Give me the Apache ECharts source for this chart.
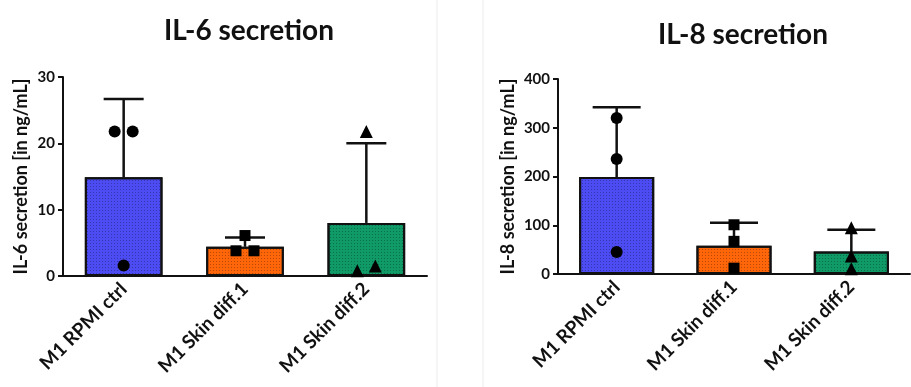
<!DOCTYPE html>
<html><head><meta charset="utf-8">
<script src="https://cdn.jsdelivr.net/npm/echarts@6/dist/echarts.min.js"></script>
<style>html,body{margin:0;padding:0;background:#fff}#c{width:911px;height:387px}</style>
</head><body><div id="c"></div>
<script>
const categories = ['M1 RPMI ctrl', 'M1 Skin diff.1', 'M1 Skin diff.2'];
const il6Mean = [14.9, 4.4, 8.0];
const il6Upper = [26.7, 5.8, 20.0];
const il6Points = [[21.8, 21.8, 1.6], [6.1, 3.8, 3.8], [21.8, 0.8, 1.5]];
const il8Mean = [199, 58, 46];
const il8Upper = [342, 105, 91];
const il8Points = [[320, 236, 45], [101, 67, 12], [95, 37, 11]];
const yTicks6 = [0, 10, 20, 30];
const yTicks8 = [0, 100, 200, 300, 400];

const colors = ['#4c4cf2', '#ff660a', '#0f9a68'];
const symbols = ['circle', 'rect', 'triangle'];
const jitter6 = [[-9, 9, 0], [0, -9, 9], [0, -9, 9]];
const jitter8 = [[0, 0, 0], [0, 0, 0], [0, 0, 0]];
const FONT = 'Lato';

const chart = echarts.init(document.getElementById('c'), null, {renderer: 'canvas'});

function yAxis(gi, ticks, name, gap) {
  return {
    gridIndex: gi, type: 'value', min: ticks[0], max: ticks[ticks.length - 1],
    interval: ticks[1] - ticks[0],
    name: name, nameLocation: 'middle', nameGap: gap,
    nameTextStyle: {fontFamily: FONT, fontWeight: 'bold', fontSize: 18, color: '#111'},
    axisLine: {show: true, lineStyle: {color: '#111', width: 2}},
    axisTick: {show: true, length: 5, lineStyle: {color: '#111', width: 2}},
    axisLabel: {fontFamily: FONT, fontWeight: 'bold', fontSize: 15, color: '#111', margin: 8},
    splitLine: {show: false}
  };
}
function xAxis(gi) {
  return {
    gridIndex: gi, type: 'category', data: categories,
    axisLine: {lineStyle: {color: '#111', width: 2}},
    axisTick: {alignWithLabel: true, length: 5, lineStyle: {color: '#111', width: 2}},
    axisLabel: {rotate: 45, fontFamily: FONT, fontWeight: 'bold', fontSize: 19, color: '#111', margin: 10, interval: 0}
  };
}
const decal = {symbol: 'rect', symbolSize: 1, dashArrayX: [1, 2], dashArrayY: [1, 2], color: 'rgba(0,0,0,0.28)'};

function barSeries(gi, means) {
  return {
    type: 'bar', xAxisIndex: gi, yAxisIndex: gi, barWidth: '64%', z: 2,
    data: means.map((v, i) => ({value: v, itemStyle: {color: colors[i], borderColor: '#111', borderWidth: 2, decal: decal}})),
    animation: false
  };
}
function errSeries(gi, means, uppers, capHalf) {
  return {
    type: 'custom', xAxisIndex: gi, yAxisIndex: gi, z: 3,
    data: means.map((m, i) => [i, m, uppers[i]]),
    renderItem: function (params, api) {
      const b = api.coord([api.value(0), api.value(1)]);
      const t = api.coord([api.value(0), api.value(2)]);
      const st = {stroke: '#111', lineWidth: 2.5};
      return {type: 'group', children: [
        {type: 'line', shape: {x1: b[0], y1: b[1], x2: t[0], y2: t[1]}, style: st},
        {type: 'line', shape: {x1: t[0] - capHalf, y1: t[1], x2: t[0] + capHalf, y2: t[1]}, style: st}
      ]};
    },
    animation: false
  };
}
function ptSeries(gi, pts, jit) {
  const arr = [];
  pts.forEach((row, i) => row.forEach((v, j) => {
    arr.push({value: [i, v], symbol: symbols[i], symbolSize: symbols[i] === 'rect' ? 11 : (symbols[i] === 'triangle' ? 13 : 12), symbolOffset: [jit[i][j], 0]});
  }));
  return {type: 'scatter', xAxisIndex: gi, yAxisIndex: gi, z: 4, data: arr, itemStyle: {color: '#000', opacity: 1}, animation: false};
}

chart.setOption({
  backgroundColor: '#fff',
  animation: false,
  title: [
    {text: 'IL-6 secretion', left: 244, top: 12, textAlign: 'center', textStyle: {fontFamily: FONT, fontWeight: 'bold', fontSize: 28, color: '#111'}},
    {text: 'IL-8 secretion', left: 738, top: 16, textAlign: 'center', textStyle: {fontFamily: FONT, fontWeight: 'bold', fontSize: 28, color: '#111'}}
  ],
  graphic: [
    {type: 'line', shape: {x1: 437, y1: 0, x2: 437, y2: 387}, style: {stroke: '#ececec', lineWidth: 1}},
    {type: 'line', shape: {x1: 483, y1: 0, x2: 483, y2: 387}, style: {stroke: '#ececec', lineWidth: 1}}
  ],
  grid: [
    {left: 63, right: 484, top: 77, bottom: 111, containLabel: false},
    {left: 558, right: 1, top: 79, bottom: 113, containLabel: false}
  ],
  xAxis: [xAxis(0), xAxis(1)],
  yAxis: [yAxis(0, yTicks6, 'IL-6 secretion [in ng/mL]', 33), yAxis(1, yTicks8, 'IL-8 secretion [in ng/mL]', 41)],
  series: [
    barSeries(0, il6Mean), errSeries(0, il6Mean, il6Upper, 20), ptSeries(0, il6Points, jitter6),
    barSeries(1, il8Mean), errSeries(1, il8Mean, il8Upper, 24), ptSeries(1, il8Points, jitter8)
  ]
});
</script></body></html>
